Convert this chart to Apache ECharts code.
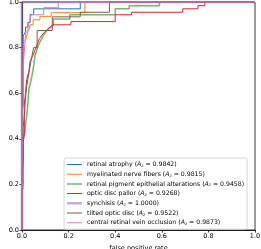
<!DOCTYPE html>
<html>
<head>
<meta charset="utf-8">
<script src="https://cdn.jsdelivr.net/npm/echarts@6/dist/echarts.min.js"></script>
<style>html,body{margin:0;padding:0;background:#fff}#c{width:261px;height:249px}</style>
</head>
<body>
<div id="c"></div>
<script>
const names = ['retinal atrophy','myelinated nerve fibers','retinal pigment epithelial alterations','optic disc pallor','synchisis','tilted optic disc','central retinal vein occlusion'];
const aucs = ['0.9842','0.9815','0.9458','0.9268','1.0000','0.9522','0.9873'];
const colors = ['#1f77b4','#ff7f0e','rgba(44,160,44,0.7)','#d62728','rgba(148,103,189,0.55)','#8c564b','#e377c2'];
const xTicks = [0, 0.2, 0.4, 0.6, 0.8, 1.0];

const atrophyFpr = [0, 0, 0.005, 0.005, 0.015, 0.015, 0.025, 0.025, 0.035, 0.035, 0.05, 0.05, 0.25, 0.25, 1];
const atrophyTpr = [0, 0.52, 0.55, 0.85, 0.87, 0.89, 0.89, 0.91, 0.91, 0.945, 0.945, 0.97, 0.97, 1, 1];
const myelFpr = [0, 0, 0.005, 0.005, 0.015, 0.02, 0.025, 0.03, 0.035, 0.048, 0.048, 0.077, 0.077, 0.126, 0.126, 0.27, 0.27, 1];
const myelTpr = [0, 0.78, 0.8, 0.82, 0.83, 0.85, 0.87, 0.88, 0.9, 0.9, 0.922, 0.922, 0.937, 0.937, 0.953, 0.953, 1, 1];
const rpeFpr = [0, 0, 0.01, 0.02, 0.025, 0.03, 0.04, 0.05, 0.055, 0.07, 0.09, 0.11, 0.135, 0.135, 0.205, 0.205, 0.40, 0.40, 0.46, 0.46, 0.59, 0.59, 1];
const rpeTpr = [0, 0.38, 0.42, 0.5, 0.55, 0.62, 0.66, 0.72, 0.76, 0.81, 0.85, 0.88, 0.9, 0.925, 0.925, 0.944, 0.944, 0.97, 0.97, 0.984, 0.984, 1, 1];
const pallorFpr = [0, 0, 0.005, 0.005, 0.01, 0.01, 0.015, 0.02, 0.03, 0.035, 0.045, 0.06, 0.075, 0.09, 0.11, 0.13, 0.21, 0.21, 0.40, 0.40, 0.47, 0.47, 0.69, 0.69, 0.755, 0.755, 0.785, 0.785, 1];
const pallorTpr = [0, 0.15, 0.2, 0.38, 0.42, 0.55, 0.6, 0.66, 0.7, 0.74, 0.76, 0.8, 0.84, 0.86, 0.88, 0.9, 0.9, 0.914, 0.914, 0.944, 0.944, 0.955, 0.955, 0.97, 0.97, 0.984, 0.984, 1, 1];
const synchFpr = [0, 0, 1];
const synchTpr = [0, 1, 1];
const tiltedFpr = [0, 0, 0.005, 0.005, 0.01, 0.015, 0.02, 0.03, 0.04, 0.05, 0.065, 0.065, 0.13, 0.13, 0.25, 0.25, 0.375, 0.375, 1];
const tiltedTpr = [0, 0.26, 0.3, 0.45, 0.5, 0.58, 0.63, 0.69, 0.75, 0.8, 0.8, 0.875, 0.875, 0.935, 0.935, 0.955, 0.955, 1, 1];
const crvoFpr = [0, 0, 0.005, 0.005, 0.01, 0.015, 0.025, 0.03, 0.035, 0.04, 0.093, 0.093, 0.156, 0.156, 1];
const crvoTpr = [0, 0.5, 0.55, 0.72, 0.78, 0.86, 0.88, 0.91, 0.91, 0.944, 0.944, 0.975, 0.975, 1, 1];

const fprs = [atrophyFpr, myelFpr, rpeFpr, pallorFpr, synchFpr, tiltedFpr, crvoFpr];
const tprs = [atrophyTpr, myelTpr, rpeTpr, pallorTpr, synchTpr, tiltedTpr, crvoTpr];
const widths = [1, 1, 1.5, 1, 2.6, 1, 1];

function handle(w) {
  const a = (3.5 - w / 2).toFixed(2), b = (3.5 + w / 2).toFixed(2);
  return 'path://M0,0H15V0.01H0Z M0,' + a + 'H15V' + b + 'H0Z M0,6.99H15V7H0Z';
}

const FONT = 'DejaVu Sans';
const series = names.map((n, i) => ({
  name: n,
  type: 'line',
  symbol: 'none',
  data: fprs[i].map((x, j) => [x, tprs[i][j]]),
  lineStyle: { color: colors[i], width: widths[i] },
  itemStyle: { color: colors[i] },
  animation: false
}));

const chart = echarts.init(document.getElementById('c'), null, { renderer: 'canvas' });
chart.setOption({
  animation: false,
  backgroundColor: '#fff',
  grid: { left: 22, right: 6, top: 2, bottom: 19, outerBoundsMode: 'none', containLabel: false, show: true, borderColor: '#000', borderWidth: 0.8, backgroundColor: 'transparent' },
  xAxis: {
    type: 'value', min: 0, max: 1, interval: 0.2,
    name: 'false positive rate', nameLocation: 'middle', nameGap: 10,
    nameTextStyle: { fontFamily: FONT, fontSize: 6.5, color: '#000' },
    axisLine: { show: true, lineStyle: { color: '#000', width: 0.8 } },
    axisTick: { show: true, inside: false, length: 2.5, lineStyle: { color: '#000', width: 0.8 } },
    axisLabel: { show: true, fontFamily: FONT, fontSize: 6.5, color: '#000', margin: 3, hideOverlap: false, formatter: v => Number(v).toFixed(1) },
    splitLine: { show: false }
  },
  yAxis: {
    type: 'value', min: 0, max: 1, interval: 0.2,
    name: 'true positive rate', nameLocation: 'middle', nameGap: 14,
    nameTextStyle: { fontFamily: FONT, fontSize: 6.5, color: '#000' },
    axisLine: { show: true, lineStyle: { color: '#000', width: 0.8 } },
    axisTick: { show: true, inside: false, length: 2.5, lineStyle: { color: '#000', width: 0.8 } },
    axisLabel: { show: true, fontFamily: FONT, fontSize: 6.5, color: '#000', margin: 3, hideOverlap: false, formatter: v => Number(v).toFixed(1) },
    splitLine: { show: false }
  },
  legend: {
    orient: 'vertical', left: 64, top: 158,
    padding: [3, 3, 3, 3],
    itemWidth: 15, itemHeight: 7, itemGap: 2.7,
    symbolKeepAspect: false,
    backgroundColor: 'rgba(255,255,255,0.85)', borderColor: '#ccc', borderWidth: 0.8, borderRadius: 2,
    data: names.map((n, i) => ({ name: n, icon: handle(widths[i]) })),
    formatter: name => {
      const i = names.indexOf(name);
      return name + ' ({i|A}{s|z} = ' + aucs[i] + ')';
    },
    textStyle: {
      fontFamily: FONT, fontSize: 6.2, color: '#000', lineHeight: 7,
      rich: {
        i: { fontFamily: FONT, fontSize: 6.2, fontStyle: 'italic', color: '#000', lineHeight: 7 },
        s: { fontFamily: FONT, fontSize: 4.2, fontStyle: 'italic', color: '#000', verticalAlign: 'bottom', lineHeight: 5, padding: [3, 0, 0, 0] }
      }
    }
  },
  series: series
});
</script>
</body>
</html>
